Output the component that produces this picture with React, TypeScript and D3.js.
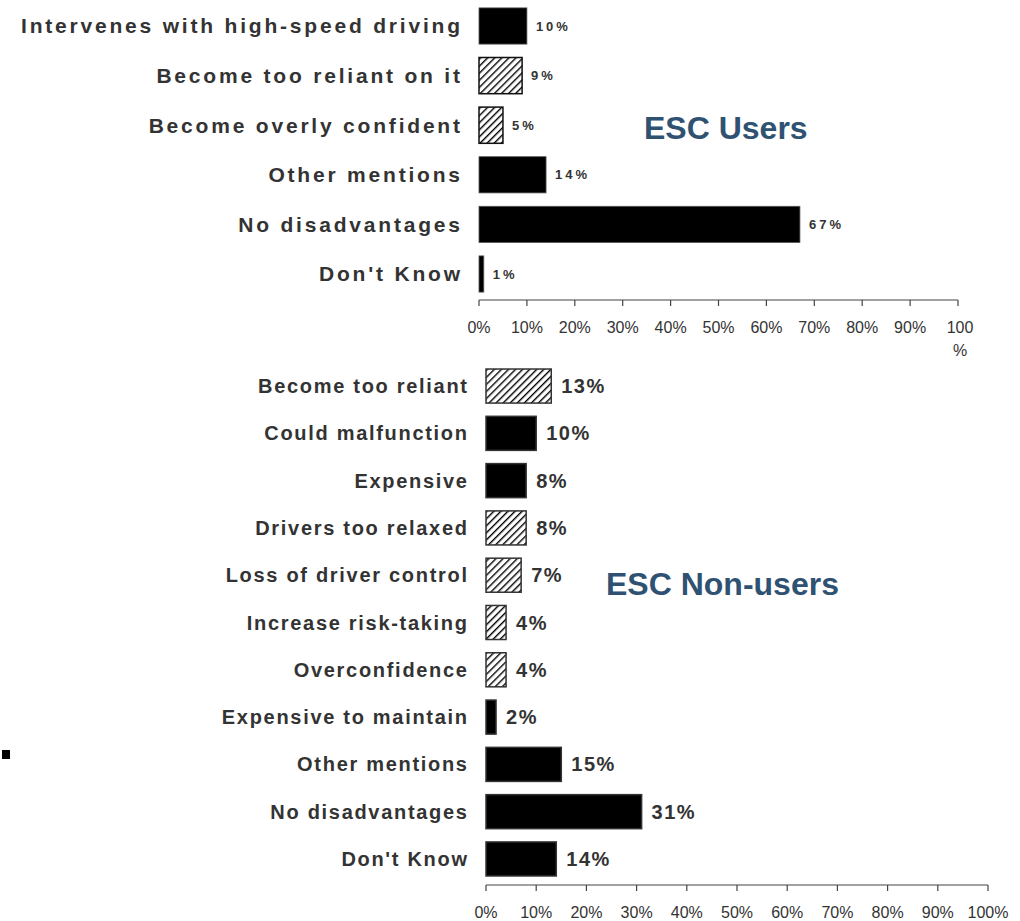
import React from "react";
import * as d3 from "d3";

const usersCategories = [
  "Intervenes with high-speed driving",
  "Become too reliant on it",
  "Become overly confident",
  "Other mentions",
  "No disadvantages",
  "Don't Know",
];
const usersValues = [10, 9, 5, 14, 67, 1];
const usersHatched = [false, true, true, false, false, false];

const nonUsersCategories = [
  "Become too reliant",
  "Could malfunction",
  "Expensive",
  "Drivers too relaxed",
  "Loss of driver control",
  "Increase risk-taking",
  "Overconfidence",
  "Expensive to maintain",
  "Other mentions",
  "No disadvantages",
  "Don't Know",
];
const nonUsersValues = [13, 10, 8, 8, 7, 4, 4, 2, 15, 31, 14];
const nonUsersHatched = [true, false, false, true, true, true, true, false, false, false, false];

const tickValues = [0, 10, 20, 30, 40, 50, 60, 70, 80, 90, 100];

const FONT = "'Liberation Sans', Arial, sans-serif";
const TEXT = "#333";
const TITLE = "#2f5272";

export default function App() {
  const x1 = d3.scaleLinear().domain([0, 100]).range([479, 958]);
  const y1 = d3.scaleBand<string>().domain(usersCategories).range([1.2, 298.8]).paddingInner(0.27).paddingOuter(0.135);
  const x2 = d3.scaleLinear().domain([0, 100]).range([486, 988]);
  const y2 = d3.scaleBand<string>().domain(nonUsersCategories).range([362.4, 882.6]).paddingInner(0.28).paddingOuter(0.14);

  const axis1Y = 300;
  const axis2Y = 885;
  const topLS = 2.8;
  const botLS = 1.7;

  return (
    <svg width={1020} height={921} style={{ position: "absolute", left: 0, top: 0, background: "#fff" }} fontFamily={FONT}>
      <defs>
        <pattern id="hatch" patternUnits="userSpaceOnUse" width={5} height={5} patternTransform="rotate(45)">
          <rect width={5} height={5} fill="#fff" />
          <line x1={0} y1={0} x2={0} y2={5} stroke="#000" strokeWidth={2.8} />
        </pattern>
      </defs>
      <rect width={1020} height={921} fill="#fff" />

      {/* Top chart */}
      {usersCategories.map((c, i) => {
        const y = y1(c)!;
        const h = y1.bandwidth();
        const w = x1(usersValues[i]) - x1(0);
        return (
          <g key={c}>
            <text x={460 + topLS} y={y + h / 2} dy="0.35em" textAnchor="end" fontSize={21} fontWeight="bold" fill={TEXT} letterSpacing={topLS}>
              {c}
            </text>
            <rect x={x1(0)} y={y} width={w} height={h} fill={usersHatched[i] ? "url(#hatch)" : "#000"} stroke={usersHatched[i] ? "#111" : "#555"} strokeWidth={usersHatched[i] ? 1.5 : 0.8} />
            <text x={x1(usersValues[i]) + 9} y={y + h / 2} dy="0.35em" fontSize={13} fontWeight="bold" fill={TEXT} letterSpacing={3}>
              {usersValues[i] + "%"}
            </text>
          </g>
        );
      })}
      <line x1={x1(0)} x2={x1(100)} y1={axis1Y} y2={axis1Y} stroke="#444" strokeWidth={1.2} />
      {tickValues.map((t) => (
        <g key={"t1" + t}>
          <line x1={x1(t)} x2={x1(t)} y1={axis1Y} y2={axis1Y + 6} stroke="#444" strokeWidth={1.2} />
          {t < 100 ? (
            <text x={x1(t)} y={axis1Y + 33} textAnchor="middle" fontSize={16} fill={TEXT}>
              {t + "%"}
            </text>
          ) : (
            <text x={x1(t)} y={axis1Y + 33} textAnchor="middle" fontSize={16} fill={TEXT}>
              <tspan x={x1(t) + 2}>100</tspan>
              <tspan x={x1(t) + 2} dy={23}>%</tspan>
            </text>
          )}
        </g>
      ))}
      <text x={644} y={139} fontSize={32} fontWeight="bold" fill={TITLE}>ESC Users</text>

      {/* Bottom chart */}
      {nonUsersCategories.map((c, i) => {
        const y = y2(c)!;
        const h = y2.bandwidth();
        const w = x2(nonUsersValues[i]) - x2(0);
        return (
          <g key={c}>
            <text x={467 + botLS} y={y + h / 2} dy="0.35em" textAnchor="end" fontSize={20} fontWeight="bold" fill={TEXT} letterSpacing={botLS}>
              {c}
            </text>
            <rect x={x2(0)} y={y} width={w} height={h} fill={nonUsersHatched[i] ? "url(#hatch)" : "#000"} stroke="#333" strokeWidth={1.5} />
            <text x={x2(nonUsersValues[i]) + 10} y={y + h / 2} dy="0.35em" fontSize={20} fontWeight="bold" fill={TEXT} letterSpacing={1.5}>
              {nonUsersValues[i] + "%"}
            </text>
          </g>
        );
      })}
      <line x1={x2(0)} x2={x2(100)} y1={axis2Y} y2={axis2Y} stroke="#444" strokeWidth={1.2} />
      {tickValues.map((t) => (
        <g key={"t2" + t}>
          <line x1={x2(t)} x2={x2(t)} y1={axis2Y} y2={axis2Y + 6} stroke="#444" strokeWidth={1.2} />
          <text x={x2(t)} y={axis2Y + 33} textAnchor="middle" fontSize={16} fill={TEXT}>
            {t + "%"}
          </text>
        </g>
      ))}
      <text x={606} y={595} fontSize={32} fontWeight="bold" fill={TITLE}>ESC Non-users</text>

      <rect x={2} y={750} width={8} height={9} fill="#000" />
    </svg>
  );
}
